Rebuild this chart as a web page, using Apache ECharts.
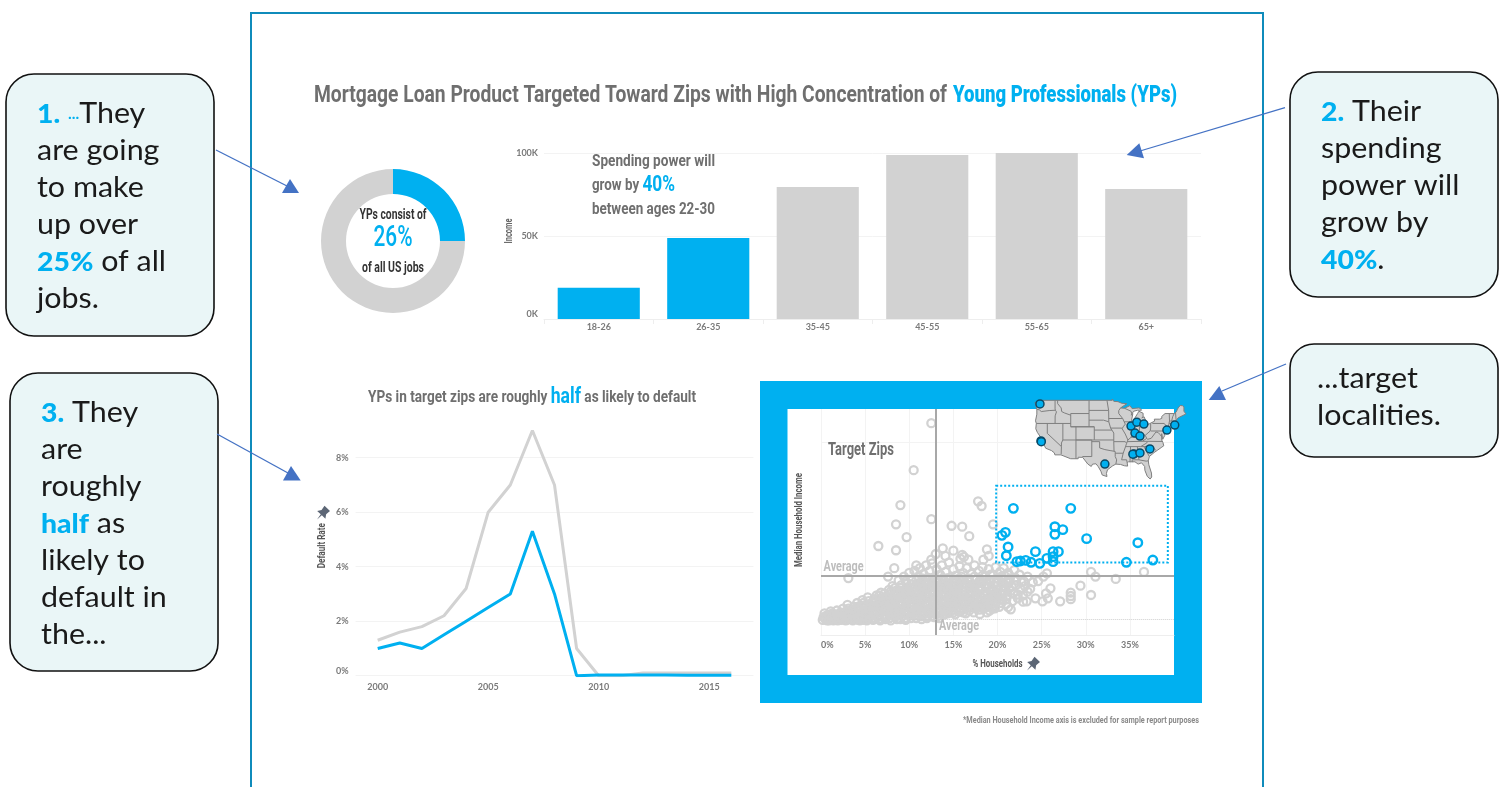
<!DOCTYPE html>
<html><head><meta charset="utf-8">
<style>html,body{margin:0;padding:0;background:#fff}#c{width:1507px;height:787px}</style>
<script src="https://cdn.jsdelivr.net/npm/echarts@6/dist/echarts.min.js"></script>
</head><body><div id="c"></div>
<script>
var BLUE='#00b0f0', GREY='#d2d2d2', TXT='#6f6f6f';
var NARROW="Roboto,sans-serif";
var AXISFONT="Lato,sans-serif";
var CALL="Lato,'Open Sans',sans-serif";

var titleA='Mortgage Loan Product Targeted Toward Zips with High Concentration of';
var titleB='Young Professionals (YPs)';

var donutData=[25,75];
var ageCats=['18-26','26-35','35-45','45-55','55-65','65+'];
var ageIncome=[18.8,48.8,79.5,98.8,100,78.3];
var ageHighlight=[true,true,false,false,false,false];

var years=[2000,2001,2002,2003,2004,2005,2006,2007,2008,2009,2010,2011,2012,2013,2014,2015,2016];
var defaultAll=[1.3,1.6,1.8,2.2,3.2,6,7,9,7,1,0,0,0.1,0.1,0.1,0.1,0.1];
var defaultYP=[1,1.2,1,1.5,2,2.5,3,5.3,3,0,0.03,0.03,0.03,0.03,0.02,0.02,0.02];

var targetZips=[[21.8,134.5],[28.3,134.5],[20.9,109],[20.5,105.8],[26.5,115],[26.5,106.9],[27.4,111.9],[30.1,102.3],[35.9,98],[21.2,93.5],[21,84.2],[24.3,88.5],[26.3,88.5],[26.9,88.5],[22.2,77.9],[22.6,78.6],[23.2,79.3],[23.8,77.2],[24.8,76.1],[25.6,81.4],[26.3,77.9],[26.3,83.2],[34.6,77.2],[37.6,79.6]];
var otherZipsOuter=[[12.5,225],[10.5,175],[9,138],[17.8,142],[18.2,137],[12.5,123],[8.5,117.5],[14.8,116],[16,115],[19.5,117.5],[16.8,105],[9.7,104],[6.5,94.5],[8.5,90],[13.8,92],[15,89.5],[18.8,91],[16,85],[16.2,83],[13,86],[14.1,84],[19,84],[18.4,80],[16.7,80],[15.8,81],[12.5,80],[8.3,71],[10.8,74],[30.6,67],[31.1,62],[33.4,59.5],[36.6,67],[3.1,60.5],[7.6,62],[29.4,52.4],[30.6,42.5],[28.3,45],[28.3,41.4],[28.3,38],[27.1,35.8],[26,49.6],[25.5,44.2],[25.7,39],[25.1,35.8],[24.3,39],[23.3,35.8],[22.9,35.4],[21.2,29.7],[21.5,27.3],[19.7,28.3],[18,22.3],[15.7,24.8],[24.6,57.3],[25.6,65.5],[25.2,62],[23,57],[22.6,49],[23.4,46],[21.8,44],[22.3,39],[21,38],[20.4,34],[19.6,31]];
var otherZipsDense=[
[0.2,16],[0.3,19],[0.4,23],[0.5,17],[0.7,15.5],[0.8,21],[1,16],[1.1,25],[1.2,19],[1.4,15.5],[1.5,22],[1.6,17],[1.8,26],[1.9,15.5],[2,20],[2.2,24],[2.3,16],[2.5,28],[2.6,19],[2.8,15.5],[2.9,23],[3,32],[3.2,17],[3.3,26],[3.5,21],[3.6,15.5],[3.7,30],[3.9,24],[4,18],[4.1,34],[4.3,28],[4.4,15.5],[4.6,22],[4.7,37],[4.8,31],[5,18],[5.1,26],[5.2,15.5],[5.3,40],[5.5,33],[5.6,21],[5.8,29],[5.9,16],[6,38],[6.1,25],[6.3,42],[6.4,19],[6.5,33],[6.7,15.5],[6.8,45],[6.9,28],[7,37],[7.2,22],[7.3,17],[7.4,41],[7.5,32],[7.7,48],[7.8,26],[7.9,15.5],[8,37],[8.1,52],[8.2,21],[8.3,44],[8.4,30],[8.6,17],[8.7,39],[8.8,58],[8.9,25],[9,50],[9.1,34],[9.2,20],[9.3,45],[9.4,62],[9.5,29],[9.6,16],[9.7,55],[9.8,38],[9.9,24],[10,66],[10,47],[10.1,32],[10.2,18],[10.3,58],[10.4,42],[10.5,27],[10.6,68],[10.7,51],[10.8,36],[10.9,21],[11,62],[11,45],[11.1,30],[11.2,71],[11.3,55],[11.4,17],[11.5,39],[11.5,25],[11.6,65],[11.7,48],[11.8,33],[11.9,74],[12,58],[12,43],[12.1,20],[12.2,28],[12.3,68],[12.4,52],[12.5,37],[12.6,76],[12.7,61],[12.8,23],[12.9,46],[13,31],[13.1,70],[13.2,55],[13.3,40],[13.4,18],[13.5,26],[13.5,64],[13.6,49],[13.7,74],[13.8,34],[13.9,58],[14,22],[14,43],[14.1,67],[14.2,29],[14.3,52],[14.4,38],[14.5,77],[14.6,61],[14.7,25],[14.8,46],[14.9,33],[15,70],[15,55],[15.1,41],[15.2,22],[15.3,63],[15.4,29],[15.5,49],[15.6,36],[15.7,73],[15.8,57],[15.9,26],[16,43],[16.1,66],[16.2,32],[16.3,51],[16.4,23],[16.5,71],[16.6,38],[16.7,60],[16.8,46],[16.9,29],[17,65],[17.1,54],[17.2,35],[17.3,24],[17.4,74],[17.5,42],[17.6,59],[17.7,31],[17.8,49],[17.9,68],[18,27],[18.1,37],[18.2,55],[18.3,72],[18.4,44],[18.5,32],[18.6,62],[18.7,50],[18.8,24],[18.9,39],[19,70],[19.1,57],[19.2,34],[19.3,46],[19.4,28],[19.5,64],[19.6,53],[19.7,41],[19.8,72],[19.9,35],[20,60],[20.1,49],[20.2,30],[20.3,67],[20.4,44],[20.5,56],[20.6,38],[20.7,71],[20.8,63],[20.9,50],[21,33],[21.1,42],[21.2,66],[21.3,57],[21.5,47],[21.7,36],[21.9,69],[22,61],[22.1,53],[22.3,43],[22.5,64],[22.7,56],[22.9,42],[23.1,52],[23.4,62],[23.7,49],[24,56],
[4.2,20],[4.5,27],[5.4,24],[6.6,21],[6.2,35],[7.1,27],[7.6,35],[8,29],[8.5,23],[8.9,33],[9.2,41],[9.6,47],[10,38],[10.4,22],[10.8,48],[11.2,36],[11.4,53],[11.8,24],[12.2,49],[12.6,30],[13,60],[13.2,25],[13.6,37],[13.9,51],[14.2,60],[14.6,34],[14.9,45],[15.2,56],[15.6,42],[15.9,62],[16.2,40],[16.5,54],[16.8,36],[17.1,44],[17.4,62],[17.7,38],[18,48],[18.3,63],[18.6,34],[18.9,54],[19.2,64],[19.5,42],[19.8,55],[20.1,40],[20.4,62],[20.7,47],[21,56],[21.3,64],[21.6,52],[19.1,26],[17.6,28],[16.1,24],[18.4,28],[15,27],[14.1,25],[12.8,19]
];
var otherZipsFill=[
[1.2,16.5],[1.3,20],[1.3,23],[1.8,16],[1.9,18.5],[1.7,21],[2.4,17],[2.5,21],[2.4,23.5],[2.9,16],[3,19],[3.1,21.5],[3,25],[3.1,28],[3.6,17],[3.7,19.5],[3.6,23],[3.7,27],[4.2,16],[4.3,18],[4.2,22.5],[4.3,25],[4.2,30],[4.8,16],[4.9,20],[4.8,24],[4.9,28],[4.8,34],[5.4,17],[5.5,19],[5.4,28],[5.5,30],[5.4,36],[6,18],[6.1,21],[6,23],[6.1,27],[6,31],[6.1,36],[6.6,17],[6.7,24],[6.6,27],[6.7,30],[6.6,36],[6.7,39],[6.6,42],[7.2,18],[7.3,20],[7.2,25],[7.3,30],[7.2,34],[7.3,38],[7.2,44],[7.8,18],[7.9,21],[7.8,23],[7.9,30],[7.8,33],[7.9,40],[7.8,43],[7.9,46],[8.4,19],[8.5,21],[8.4,25],[8.5,27],[8.4,34],[8.5,36],[8.4,41],[8.5,47],[8.4,50],[9,17],[9.1,23],[9,27],[9.1,31],[9,36],[9.1,43],[9,47],[9.1,53],[9.6,18],[9.7,22],[9.6,26],[9.7,32],[9.6,35],[9.7,41],[9.6,44],[9.7,50],[9.6,57],[10.2,21],[10.3,24],[10.2,27],[10.3,30],[10.2,35],[10.3,39],[10.2,44],[10.3,50],[10.2,54],[10.8,18],[10.9,24],[10.8,27],[10.9,32],[10.8,39],[10.9,43],[10.8,46],[10.9,54],[10.8,58],[11.4,20],[11.5,22],[11.4,28],[11.5,32],[11.4,36],[11.5,42],[11.4,45],[11.5,50],[11.4,57],[11.5,60],[12,18],[12.1,23],[12,26],[12.1,31],[12,35],[12.1,40],[12,46],[12.1,50],[12,55],[12.1,61],[12.6,20],[12.7,25],[12.6,28],[12.7,33],[12.6,39],[12.7,43],[12.6,48],[12.7,54],[12.6,58],[13.2,20],[13.3,23],[13.2,28],[13.3,33],[13.2,37],[13.3,43],[13.2,47],[13.3,51],[13.2,58],[13.8,22],[13.9,26],[13.8,30],[13.9,36],[13.8,41],[13.9,45],[13.8,49],[13.9,54],[13.8,60],[14.4,23],[14.5,27],[14.4,32],[14.5,35],[14.4,41],[14.5,45],[14.4,49],[14.5,55],[14.4,58],[15,24],[15.1,30],[15,35],[15.1,38],[15,43],[15.1,47],[15,52],[15.1,59],[15.6,25],[15.7,28],[15.6,33],[15.7,39],[15.6,45],[15.7,52],[15.6,55],[15.7,60],[16.2,28],[16.3,35],[16.2,37],[16.3,43],[16.2,47],[16.3,54],[16.2,58],[16.8,26],[16.9,32],[16.8,39],[16.9,42],[16.8,50],[16.9,53],[16.8,57],[17.4,30],[17.5,33],[17.4,38],[17.5,45],[17.4,49],[17.5,53],[18,32],[18.1,40],[18,43],[18.1,51],[18,58],[18.6,29],[18.7,37],[18.6,42],[18.7,46],[18.6,53],[18.7,58],[19.2,31],[19.3,38],[19.2,43],[19.3,49],[19.2,58],[19.9,42],[20,45],[19.9,52],[20,56],[20.6,43],[20.7,52],[20.6,60],[21.3,49],[21.4,60],[22.1,58],[0.9,18],[0.6,20.5],[1.1,22],[0.9,15.5]
];
var otherZips=otherZipsOuter.concat(otherZipsDense,otherZipsFill);
var avgIncome=63.4, avgShare=13, lowLine=17;
var targetBox=[[19.85,158.6],[39.3,77]];

var mapCities=[[-122.8,47.9],[-122.4,36.7],[-122.3,36.5],[-98,29.7],[-88,41.2],[-85.8,42.4],[-83.1,41.8],[-86.5,39.1],[-84.6,38.2],[-86.9,32.8],[-87.3,32.7],[-84.6,33.1],[-80.8,34.3],[-74.3,40],[-71.3,41.5]];
var usOutline=[[-124.7,48.4],[-123,48.3],[-122.8,49],[-95.2,49],[-95.15,49.4],[-94.6,48.7],[-93,48.6],[-91.5,48.1],[-89.6,48],[-92,46.7],[-90.5,46.6],[-88.4,47.4],[-87.6,46.5],[-85,46.7],[-84.4,46.5],[-84,46],[-85.5,46],[-87,45.7],[-87.7,44.9],[-88,44.5],[-87.3,45],[-87.8,43],[-87.6,41.7],[-87,41.7],[-86.3,42.4],[-86.5,43.7],[-85.5,45],[-85,45.7],[-83.4,45.1],[-83.4,44],[-83.9,43.7],[-83,44],[-82.5,43],[-83.1,42.2],[-83.4,41.7],[-82.5,41.4],[-81,41.9],[-79,42.7],[-78.9,43],[-79.1,43.3],[-77,43.3],[-76.2,43.6],[-76.3,44.1],[-75,45],[-71.5,45],[-70.8,45.4],[-70.3,46.2],[-70,46.7],[-69.2,47.45],[-68.3,47.35],[-67.8,47],[-67.8,45.7],[-67,44.9],[-68.5,44.3],[-70,43.7],[-70.7,43],[-70.8,42.6],[-71,42.3],[-70,41.8],[-71.2,41.5],[-72.9,41.25],[-74,40.7],[-74,39.7],[-75,38.9],[-75.5,39.5],[-75.1,38.4],[-75.9,37.2],[-76.3,38.9],[-76.3,37],[-75.8,36.2],[-75.5,35.25],[-76.5,34.7],[-77.9,33.9],[-79.2,33.2],[-81,32],[-81.4,30.7],[-81.2,29.5],[-80.2,27],[-80.1,25.8],[-80.7,25.2],[-81.8,26],[-82.7,27.8],[-82.8,29],[-84,30.1],[-85.3,29.7],[-86.5,30.4],[-89,30.4],[-89.5,30.2],[-89.3,29.1],[-90.5,29.2],[-92,29.6],[-93.8,29.7],[-95,29.2],[-97,28],[-97.4,26.9],[-97.2,25.95],[-99,26.4],[-99.5,27.5],[-100.5,28.9],[-101.4,29.8],[-102.7,29.7],[-103.2,29],[-104.5,29.7],[-106.5,31.75],[-108.2,31.78],[-108.2,31.33],[-111.07,31.33],[-114.8,32.5],[-117.1,32.5],[-117.3,33.1],[-118.4,33.8],[-120.6,34.5],[-121.9,36.6],[-122.5,37.8],[-123.8,39.3],[-124.4,40.4],[-124.2,42],[-124.5,42.8],[-124,44.8],[-124,46.3],[-124.7,48.4]];
var stateLines=[
[[-124,46.3],[-123,46.1],[-122.3,45.6],[-119.3,45.9],[-116.9,46]],
[[-117.03,49],[-117.03,46.4],[-116.9,46],[-116.5,45.5],[-117,44.3],[-117.03,42]],
[[-124.2,42],[-111.05,42]],
[[-116.05,49],[-116.05,48],[-114.7,46.7],[-114.5,45.6],[-113.5,45.2],[-111.05,44.5]],
[[-111.05,45],[-104.05,45],[-104.05,41],[-111.05,41],[-111.05,45]],
[[-104.05,49],[-104.05,45]],
[[-120,42],[-120,39],[-114.6,35],[-114.7,32.7]],
[[-114.05,42],[-114.05,37],[-114.6,36.1],[-114.6,35]],
[[-111.05,41],[-109.05,41],[-109.05,37],[-114.05,37]],
[[-109.05,41],[-102.05,41],[-102.05,37],[-109.05,37]],
[[-109.05,37],[-109.05,31.33]],
[[-109.05,37],[-103,37],[-103,32],[-106.6,32]],
[[-103,36.5],[-100,36.5],[-100,34.6],[-98,34.1],[-96,33.8],[-94.5,33.6],[-94.05,33.5],[-94.05,32],[-93.5,31],[-93.8,29.7]],
[[-102.05,37],[-94.6,37]],
[[-104.05,43],[-98.5,43],[-96.5,42.5]],
[[-102.05,40],[-95.3,40]],
[[-104.05,41],[-102.05,41]],
[[-104.05,45.95],[-96.56,45.95]],
[[-97.2,49],[-96.56,45.9],[-96.5,42.5],[-95.8,40.6],[-95.3,40],[-94.6,39.1],[-94.6,36.5],[-94.5,33.6]],
[[-94.6,36.5],[-90.2,36.5],[-89.7,36]],
[[-96.5,43.5],[-91.2,43.5]],
[[-95.8,40.6],[-91.7,40.6],[-91.4,40.4]],
[[-92,46.7],[-92.7,45.9],[-92.7,45],[-91.2,43.5],[-90.2,41.8],[-91,41],[-91.4,40.4],[-90.2,38.8],[-89.2,37],[-89.7,36],[-90.1,35],[-91,33],[-91.6,31],[-89.7,31],[-89.5,30.2]],
[[-90.6,42.5],[-87.8,42.5]],
[[-90.5,46.6],[-88,45.7],[-87.7,44.9]],
[[-87.5,41.7],[-87.5,39.3],[-88,37.8]],
[[-89.2,37],[-88,37.8],[-86,38],[-85,38.7],[-84.8,39.1],[-82.6,38.4],[-82,37.5],[-83.7,36.6]],
[[-84.8,39.1],[-84.8,41.7]],
[[-87,41.75],[-83.4,41.7]],
[[-80.5,42],[-80.5,40.6],[-80.7,39.7],[-82.6,38.4]],
[[-82,37.5],[-81.7,37.2],[-80.3,37.5],[-78.5,39.4],[-77.7,39.3]],
[[-80.5,39.72],[-75.8,39.72]],
[[-79.76,42.2],[-79.76,42],[-75.3,42],[-74.7,41.35],[-75.1,40.9],[-74.7,40.2],[-75.5,39.8]],
[[-74.7,41.35],[-73.9,41]],
[[-73.65,41],[-73.5,42.05],[-73.3,42.75],[-73.4,45]],
[[-73.3,42.75],[-71.3,42.7],[-70.8,42.85]],
[[-73.5,42.05],[-71.4,42]],
[[-71.8,42],[-71.85,41.3]],
[[-72.5,42.73],[-72.1,44],[-71.5,45]],
[[-70.8,43.1],[-71,45.3]],
[[-77.7,39.3],[-77,38.7],[-76.3,38]],
[[-75.9,36.55],[-81.7,36.6],[-83.7,36.6],[-89.5,36.5]],
[[-90.2,35],[-84.3,35],[-82,36.1],[-81.7,36.6]],
[[-84.3,35],[-83,35],[-81,35.1],[-79.7,34.8],[-78.5,33.9]],
[[-83.1,35],[-81,32]],
[[-85.6,35],[-85.1,32],[-85,31]],
[[-87.6,31],[-85,31],[-82.2,30.6],[-81.4,30.7]],
[[-88.2,35],[-88.4,30.3]],
[[-87.6,31],[-87.5,30.3]],
[[-94.05,33],[-91,33]]
];

var callout1=['{n|1.} {d|...}They','are going','to make','up over','{b|25%} of all','jobs.'];
var callout2=['{n|2.} Their','spending','power will','grow by','{b|40%}.'];
var callout3=['{n|3.} They','are','roughly','{b|half} as','likely to','default in','the...'];
var callout4=['...target','localities.'];

echarts.registerMap('usa',{type:'FeatureCollection',features:[{type:'Feature',properties:{name:'USA'},geometry:{type:'Polygon',coordinates:[usOutline]}}]});

var g=[];
var mctx=document.createElement('canvas').getContext('2d');
function rect(x,y,w,h,fill,stroke,lw,r,z){g.push({type:'rect',silent:true,z:z==null?-1:z,shape:{x:x,y:y,width:w,height:h,r:r||0},style:{fill:fill,stroke:stroke||null,lineWidth:lw||0}});}
var calloutRich={n:{fontFamily:CALL,fontSize:27,fontWeight:900,fill:BLUE},b:{fontFamily:CALL,fontSize:27,fontWeight:900,fill:BLUE},d:{fontFamily:CALL,fontSize:15,fontWeight:700,fill:BLUE}};
function callout(lines,x,y0){lines.forEach(function(s,i){g.push({type:'text',z:5,silent:true,x:x,y:y0+i*37,scaleX:1.05,style:{x:0,y:0,text:s,verticalAlign:'middle',align:'left',fontFamily:CALL,fontSize:29,fill:'#1a1a1a',rich:calloutRich}});});}
function arrow(x1,y1,x2,y2,tri){
 g.push({type:'line',silent:true,z:6,shape:{x1:x1,y1:y1,x2:x2,y2:y2},style:{stroke:'#4472c4',lineWidth:1.3}});
 g.push({type:'polygon',silent:true,z:6,shape:{points:tri},style:{fill:'#4472c4'}});}
// segs: [{t,size,fill}] squeezed horizontally to the width the condensed label has in the picture
function fit(segs,x,y,width,opt){opt=opt||{};var nat=0,rich={},s='',wt=opt.weight||'bold';
 segs.forEach(function(p,i){mctx.font=wt+' '+p.size+'px Roboto';nat+=mctx.measureText(p.t).width;rich['s'+i]={fontFamily:NARROW,fontWeight:wt,fontSize:p.size,fill:p.fill};s+='{s'+i+'|'+p.t+'}';});
 g.push({type:'text',silent:true,z:8,x:x,y:y,rotation:opt.rotation||0,scaleX:width/nat,style:{x:0,y:0,text:s,rich:rich,align:opt.align||'left',verticalAlign:'middle',fontFamily:NARROW}});}
function pin(x,y){g.push({type:'polygon',silent:true,z:8,x:x,y:y,rotation:-0.75,scaleX:1.25,scaleY:1.25,shape:{points:[[-3,-5],[3,-5],[2.5,-1],[4.5,2],[0.6,2],[0,7],[-0.6,2],[-4.5,2],[-2.5,-1]]},style:{fill:'#5c6675'}});}

rect(251,13,1012,800,'#fff','#0f8bbb',2,0,-2);
rect(760,381,442,322,BLUE,null,0,0,-1);
rect(787.5,409,386.5,266,'#fff',null,0,0,-1);
rect(6,74,208,262,'#eaf6f7','#111',1.6,28,1);
rect(1290,72,208,225,'#eaf6f7','#111',1.6,28,1);
rect(10,373,208,298,'#eaf6f7','#111',1.6,28,1);
rect(1290,344,208,113,'#eaf6f7','#111',1.6,24,1);
callout(callout1,37,114);callout(callout2,1321,112);callout(callout3,41,413);callout(callout4,1317,379);
arrow(216,150,287,186,[[290,179],[282,193],[299,193]]);
arrow(1285,107.7,1140,151,[[1126.7,155],[1139.3,143.3],[1144,158.3]]);
arrow(217,434,288,473,[[291,466],[283,480.5],[300.7,480.5]]);
arrow(1286,364,1222,391,[[1208.7,400],[1219.3,386],[1226,400]]);

fit([{t:titleA,size:24,fill:TXT}],314,95.5,633);
fit([{t:titleB,size:24,fill:BLUE}],953,95.5,224,{weight:900});
fit([{t:'YPs consist of',size:15,fill:'#333'}],393,215,67,{align:'center'});
fit([{t:'26%',size:29,fill:BLUE}],393,239,39,{align:'center',weight:500});
fit([{t:'of all US jobs',size:15,fill:'#333'}],393,268,62,{align:'center'});
fit([{t:'Spending power will',size:17,fill:TXT}],592,161.5,123);
fit([{t:'grow by ',size:17,fill:TXT},{t:'40%',size:22,fill:BLUE}],592,185.5,83);
fit([{t:'between ages 22-30',size:17,fill:TXT}],592,209.5,123);
fit([{t:'Income',size:10,fill:'#666'}],509,231,25,{rotation:Math.PI/2,align:'center'});
fit([{t:'YPs in target zips are roughly ',size:17,fill:TXT},{t:'half',size:22,fill:BLUE},{t:' as likely to default',size:17,fill:TXT}],368,397.5,328);
fit([{t:'Default Rate',size:11,fill:'#555'}],322.7,545.7,45,{rotation:Math.PI/2,align:'center'});
pin(323,513);
fit([{t:'Target Zips',size:18,fill:TXT}],828,450,66);
fit([{t:'Median Household Income',size:11,fill:'#555'}],799,520,94,{rotation:Math.PI/2,align:'center'});
fit([{t:'% Households',size:11,fill:'#555'}],997.5,664.5,50,{align:'center'});
pin(1033,664);
fit([{t:'Average',size:15,fill:'#bdbdbd'}],823.6,567.5,40);
fit([{t:'Average',size:15,fill:'#bdbdbd'}],939,626.5,40);
fit([{t:'*Median Household Income axis is excluded for sample report purposes',size:9,fill:'#8a8a8a'}],1199,720.5,236,{align:'right'});

var axisLab={fontFamily:AXISFONT,fontWeight:'bold',fontSize:9,color:'#7a7a7a'};
var light={show:true,showMaxLine:false,lineStyle:{color:'#f3f3f3',width:1}};

var option={animation:false,backgroundColor:'#fff',graphic:{elements:g},
grid:[
 {left:544,top:153,width:657,height:166},
 {left:355.6,top:403.2,width:397.8,height:272.5},
 {left:821,top:409,width:353,height:226}
],
xAxis:[
 {gridIndex:0,type:'category',data:ageCats,axisLine:{lineStyle:{color:'#eeeeee'}},axisTick:{show:true,lineStyle:{color:'#eeeeee'}},axisLabel:Object.assign({},axisLab,{margin:4}),splitLine:{show:false}},
 {gridIndex:1,type:'value',min:1999,max:2017,interval:1,axisLine:{show:false},axisTick:{show:false},splitLine:{show:false},axisLabel:Object.assign({},axisLab,{margin:7,formatter:function(v){return v%5===0?String(v):'';}})},
 {gridIndex:2,type:'value',min:0,max:40,interval:5,axisLine:{lineStyle:{color:'#eeeeee'}},axisTick:{show:false},splitLine:light,axisLabel:Object.assign({},axisLab,{margin:6,alignMinLabel:'left',showMaxLabel:false,formatter:'{value}%'})}
],
yAxis:[
 {gridIndex:0,type:'value',min:0,max:100,interval:50,axisLine:{show:false},axisTick:{show:false},splitLine:{show:true,lineStyle:{color:'#f3f3f3'}},axisLabel:Object.assign({},axisLab,{margin:6,verticalAlignMinLabel:'bottom',formatter:function(v){return v+'K';}})},
 {gridIndex:1,type:'value',min:0,max:10,interval:2,axisLine:{show:false},axisTick:{show:false},splitLine:{show:true,showMaxLine:false,lineStyle:{color:'#f3f3f3'}},axisLabel:Object.assign({},axisLab,{margin:7,showMaxLabel:false,verticalAlignMinLabel:'bottom',formatter:'{value}%'})},
 {gridIndex:2,type:'value',min:0,max:240,interval:205,axisLine:{show:false},axisTick:{show:false},axisLabel:{show:false},splitLine:{show:true,showMaxLine:false,showMinLine:false,lineStyle:{color:'#f3f3f3'}}}
],
geo:{map:'usa',roam:false,z:5,silent:true,left:1035,top:399,width:151,height:80,aspectScale:0.79,label:{show:false},itemStyle:{areaColor:'#d0d0d0',borderColor:'#7f7f7f',borderWidth:1},emphasis:{disabled:true}},
series:[
 {type:'pie',z:3,radius:[47,72],center:[393,241],startAngle:90,silent:true,label:{show:false},labelLine:{show:false},data:[{value:donutData[0],itemStyle:{color:BLUE}},{value:donutData[1],itemStyle:{color:GREY}}]},
 {type:'bar',xAxisIndex:0,yAxisIndex:0,barWidth:'75%',silent:true,data:ageIncome.map(function(v,i){return {value:v,itemStyle:{color:ageHighlight[i]?BLUE:GREY}};})},
 {type:'line',xAxisIndex:1,yAxisIndex:1,showSymbol:false,silent:true,lineStyle:{color:GREY,width:3},data:years.map(function(y,i){return [y,defaultAll[i]];})},
 {type:'line',xAxisIndex:1,yAxisIndex:1,showSymbol:false,silent:true,z:3,lineStyle:{color:BLUE,width:3},data:years.map(function(y,i){return [y,defaultYP[i]];})},
 {type:'scatter',xAxisIndex:2,yAxisIndex:2,symbolSize:8,silent:true,itemStyle:{color:'rgba(0,0,0,0)',borderColor:'#d2d2d2',borderWidth:2.3,opacity:1},data:otherZips,z:2,
  markLine:{silent:true,symbol:'none',label:{show:false},z:3,data:[
   [{coord:[avgShare,0],lineStyle:{color:'#a8a8a8',width:2,type:'solid'}},{coord:[avgShare,240]}],
   [{coord:[0,avgIncome],lineStyle:{color:'#a8a8a8',width:2,type:'solid'}},{coord:[40,avgIncome]}],
   [{coord:[10,lowLine],lineStyle:{color:'#cfcfcf',width:1,type:'dotted'}},{coord:[40,lowLine]}]
  ]}},
 {type:'scatter',xAxisIndex:2,yAxisIndex:2,symbolSize:8.5,silent:true,z:4,itemStyle:{color:'rgba(255,255,255,0.001)',borderColor:BLUE,borderWidth:2.4,opacity:1},data:targetZips,
  markArea:{silent:true,z:4,itemStyle:{color:'rgba(0,0,0,0)',borderColor:BLUE,borderWidth:2,borderType:'dotted'},data:[[{coord:targetBox[0]},{coord:targetBox[1]}]]}},
 {type:'lines',coordinateSystem:'geo',polyline:true,silent:true,z:6,lineStyle:{color:'#7f7f7f',width:1,opacity:1},data:stateLines.map(function(c){return {coords:c};})},
 {type:'scatter',coordinateSystem:'geo',symbolSize:8,silent:true,z:7,itemStyle:{color:BLUE,borderColor:'#0b4a66',borderWidth:1.5,opacity:1},data:mapCities}
]};
var chart=echarts.init(document.getElementById('c'),null,{renderer:'canvas',width:1507,height:787});
chart.setOption(option);
</script></body></html>
